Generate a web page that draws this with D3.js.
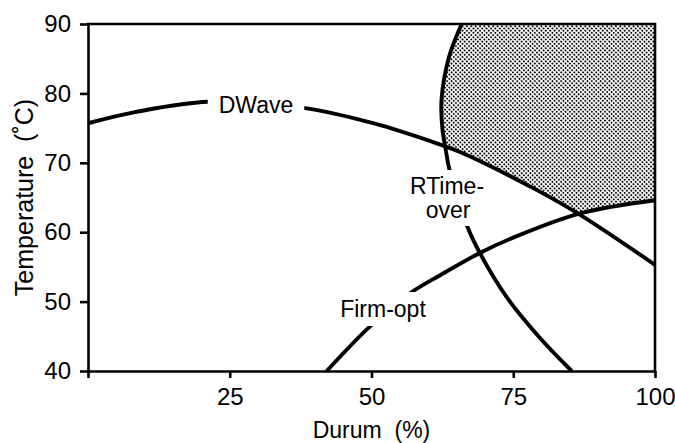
<!DOCTYPE html>
<html>
<head>
<meta charset="utf-8">
<script src="https://cdn.jsdelivr.net/npm/d3@7"></script>
<style>
  html, body { margin: 0; padding: 0; background: #fff; }
  svg { display: block; }
  text { font-family: "Liberation Sans", Arial, Helvetica, sans-serif; fill: #000; }
</style>
</head>
<body>
<svg id="chart" width="675" height="443"></svg>
<script>
// Durum share (%) and temperature (°C) along each response contour
const durumDWave = [0, 8.3, 21.2, 38.6, 50.3, 61.5, 65.6, 79.1, 86.8, 100];
const tempDWave  = [75.7, 77.3, 78.8, 77.85, 75.7, 72.8, 71.56, 66.1, 62.5, 55.3];

const durumFirm = [42.1, 49.7, 56.8, 62.1, 69.1, 74.43, 86.8, 100];
const tempFirm  = [40, 46.4, 51.2, 53.8, 57.0, 59.02, 62.7, 64.6];

const durumRTime = [65.9, 63.67, 62.35, 62.52, 63.05, 63.76, 66.79, 69.14, 73.84, 79.72, 85.31];
const tempRTime  = [90, 85.24, 79.05, 74.73, 72.13, 68.96, 61.04, 56.96, 50.66, 44.76, 40];

const xTicks = [0, 25, 50, 75, 100];
const yTicks = [40, 50, 60, 70, 80, 90];

const svg = d3.select("#chart");
const plotL = 88, plotR = 655, plotT = 24, plotB = 371;

const x = d3.scaleLinear().domain([0, 100]).range([plotL, plotR]);
const y = d3.scaleLinear().domain([40, 90]).range([plotB, plotT]);

const toPts = (xs, ys) => xs.map((d, i) => [x(d), y(ys[i])]);
const dwave = toPts(durumDWave, tempDWave);
const firm  = toPts(durumFirm, tempFirm);
const rtime = toPts(durumRTime, tempRTime);

const line = d3.line().curve(d3.curveCatmullRom.alpha(0.5));

const defs = svg.append("defs");

// fine stipple for the optimum region
const pat = defs.append("pattern")
  .attr("id", "stipple")
  .attr("patternUnits", "userSpaceOnUse")
  .attr("width", 3.1).attr("height", 3.1)
  .attr("patternTransform", "rotate(45)");
pat.append("rect").attr("width", 3.1).attr("height", 3.1).attr("fill", "#fff");
pat.append("circle").attr("cx", 1.55).attr("cy", 1.55).attr("r", 1.05).attr("fill", "#000");

// region right of RTime-over
defs.append("clipPath").attr("id", "clipRT").append("path")
  .attr("d", line(rtime) + `L${x(100)},${y(40)}L${x(100)},${y(90)}Z`);
// region above DWave
defs.append("clipPath").attr("id", "clipDW").append("path")
  .attr("d", line(dwave) + `L${x(100)},${y(90)}L${x(0)},${y(90)}Z`);
// region above Firm-opt
defs.append("clipPath").attr("id", "clipFO").append("path")
  .attr("d", line(firm) + `L${x(100)},${y(90)}L${x(0)},${y(90)}L${x(0)},${y(40)}Z`);

svg.append("g").attr("clip-path", "url(#clipDW)")
  .append("g").attr("clip-path", "url(#clipFO)")
  .append("rect")
  .attr("clip-path", "url(#clipRT)")
  .attr("x", plotL).attr("y", plotT)
  .attr("width", plotR - plotL).attr("height", plotB - plotT)
  .attr("fill", "url(#stipple)");

// contour labels
const labelFont = 23;
const labels = svg.append("g").attr("font-size", labelFont);
const lblDW = labels.append("text").attr("x", 256).attr("y", 113)
  .attr("text-anchor", "middle").text("DWave");
const lblRT = labels.append("g");
lblRT.append("text").attr("x", 447).attr("y", 194)
  .attr("text-anchor", "middle").text("RTime-");
lblRT.append("text").attr("x", 448).attr("y", 218)
  .attr("text-anchor", "middle").text("over");
const lblFO = labels.append("text").attr("x", 383).attr("y", 317)
  .attr("text-anchor", "middle").text("Firm-opt");

// each contour is broken where its label sits
function gapMask(id, node, padX, padY) {
  const b = node.getBBox();
  const m = defs.append("mask").attr("id", id)
    .attr("maskUnits", "userSpaceOnUse")
    .attr("x", 0).attr("y", 0).attr("width", 675).attr("height", 443);
  m.append("rect").attr("width", 675).attr("height", 443).attr("fill", "#fff");
  m.append("rect")
    .attr("x", b.x - padX).attr("y", b.y - padY)
    .attr("width", b.width + 2 * padX).attr("height", b.height + 2 * padY)
    .attr("fill", "#000");
}
gapMask("gapDW", lblDW.node(), 11, 4);
gapMask("gapRT", lblRT.node(), 4, 3);
gapMask("gapFO", lblFO.node(), 4, 4);

const curves = svg.append("g")
  .attr("fill", "none").attr("stroke", "#000")
  .attr("stroke-width", 3.9).attr("stroke-linecap", "butt");
curves.append("path").attr("d", line(dwave)).attr("mask", "url(#gapDW)");
curves.append("path").attr("d", line(rtime)).attr("mask", "url(#gapRT)");
curves.append("path").attr("d", line(firm)).attr("mask", "url(#gapFO)");

// axes
const gx = svg.append("g").attr("transform", `translate(0,${plotB})`)
  .call(d3.axisBottom(x).tickValues(xTicks)
    .tickFormat(d => d === 0 ? "" : d)
    .tickSize(7).tickSizeOuter(0).tickPadding(10));
const gy = svg.append("g").attr("transform", `translate(${plotL},0)`)
  .call(d3.axisLeft(y).tickValues(yTicks)
    .tickSize(8).tickSizeOuter(0).tickPadding(9));
[gx, gy].forEach(g => {
  g.selectAll("path, line").attr("stroke", "#000").attr("stroke-width", 2.6);
  g.selectAll("text").attr("font-size", 24)
    .attr("font-family", "'Liberation Sans', Arial, sans-serif").attr("fill", "#000");
});

// top and right edges of the frame
svg.append("path")
  .attr("d", `M${plotL},${plotT}H${plotR}V${plotB}`)
  .attr("fill", "none").attr("stroke", "#000").attr("stroke-width", 2.6)
  .attr("stroke-linecap", "square");

// axis titles
svg.append("text")
  .attr("x", (plotL + plotR) / 2).attr("y", 438)
  .attr("text-anchor", "middle").attr("font-size", 23)
  .style("white-space", "pre")
  .text("Durum  (%)");
svg.append("text")
  .attr("transform", `translate(33,${(plotT + plotB) / 2}) rotate(-90)`)
  .attr("text-anchor", "middle").attr("font-size", 25)
  .style("white-space", "pre")
  .text("Temperature  (˚C)");
</script>
</body>
</html>
